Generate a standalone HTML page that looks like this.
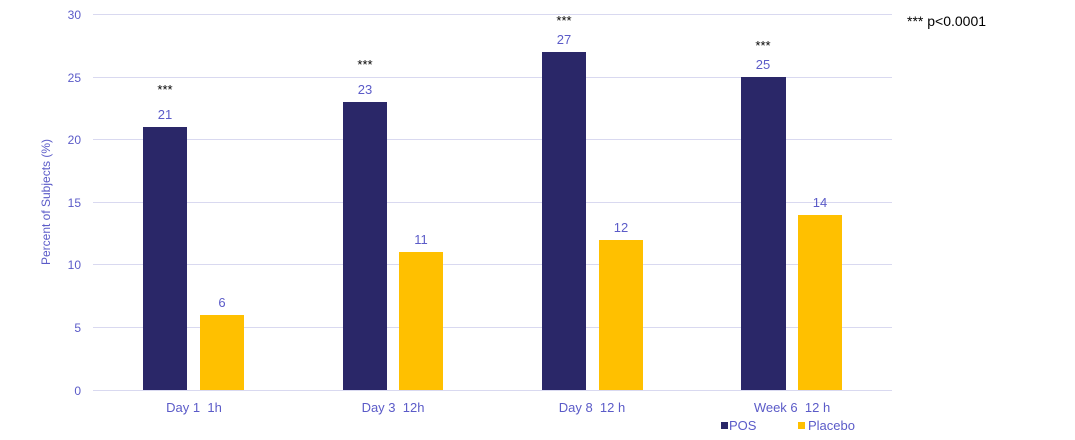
<!DOCTYPE html>
<html><head><style>body{margin:0;background:#fff}svg{display:block}text{font-family:"Liberation Sans",sans-serif}</style></head>
<body>
<svg width="1075" height="440" xmlns="http://www.w3.org/2000/svg">
<g stroke="#d9d9f0" stroke-width="1">
<line x1="93" x2="892" y1="14.5" y2="14.5"/>
<line x1="93" x2="892" y1="77.5" y2="77.5"/>
<line x1="93" x2="892" y1="139.5" y2="139.5"/>
<line x1="93" x2="892" y1="202.5" y2="202.5"/>
<line x1="93" x2="892" y1="264.5" y2="264.5"/>
<line x1="93" x2="892" y1="327.5" y2="327.5"/>
<line x1="93" x2="892" y1="390.5" y2="390.5"/>
</g>
<g fill="#5b5bc8" font-size="12" text-anchor="end">
<text x="81" y="19">30</text><text x="81" y="82">25</text><text x="81" y="144">20</text>
<text x="81" y="207">15</text><text x="81" y="269">10</text><text x="81" y="332">5</text><text x="81" y="395">0</text>
</g>
<text transform="translate(50,202) rotate(-90)" fill="#5b5bc8" font-size="12" text-anchor="middle">Percent of Subjects (%)</text>
<g fill="#2a2768">
<rect x="143" y="127" width="44" height="263"/>
<rect x="343" y="102" width="44" height="288"/>
<rect x="542" y="52" width="44" height="338"/>
<rect x="741" y="77" width="45" height="313"/>
</g>
<g fill="#ffc000">
<rect x="200" y="315" width="44" height="75"/>
<rect x="399" y="252" width="44" height="138"/>
<rect x="599" y="240" width="44" height="150"/>
<rect x="798" y="215" width="44" height="175"/>
</g>
<g fill="#5b5bc8" font-size="13" text-anchor="middle">
<text x="165" y="119">21</text><text x="222" y="307">6</text>
<text x="365" y="94">23</text><text x="421" y="244">11</text>
<text x="564" y="44">27</text><text x="621" y="232">12</text>
<text x="763" y="69">25</text><text x="820" y="207">14</text>
</g>
<g fill="#000" font-size="13" text-anchor="middle">
<text x="165" y="94">***</text><text x="365" y="69">***</text><text x="564" y="25">***</text><text x="763" y="50">***</text>
</g>
<text x="907" y="26" font-size="14" fill="#000">*** p&lt;0.0001</text>
<g fill="#5b5bc8" font-size="13" text-anchor="middle" xml:space="preserve">
<text x="194" y="412" xml:space="preserve">Day 1  1h</text>
<text x="393" y="412" xml:space="preserve">Day 3  12h</text>
<text x="592" y="412" xml:space="preserve">Day 8  12 h</text>
<text x="792" y="412" xml:space="preserve">Week 6  12 h</text>
</g>
<rect x="721" y="422" width="7" height="7" fill="#2a2768"/>
<text x="729" y="430" font-size="13" fill="#5b5bc8">POS</text>
<rect x="798" y="422" width="7" height="7" fill="#ffc000"/>
<text x="808" y="430" font-size="13" fill="#5b5bc8">Placebo</text>
</svg>
</body></html>
